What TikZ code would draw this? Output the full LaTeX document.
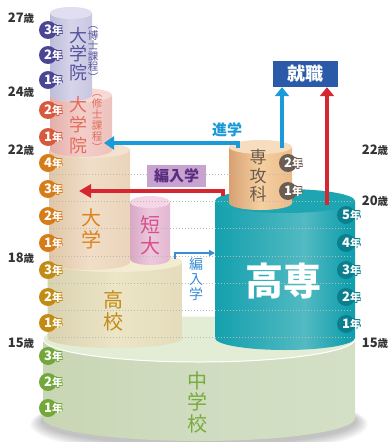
\documentclass[tikz,border=0pt]{standalone}
\usepackage{fontspec}
\setmainfont{Noto Sans CJK JP}
\usetikzlibrary{arrows.meta}
\definecolor{agec}{HTML}{333333}
\definecolor{purC}{HTML}{4A4594}
\definecolor{purT}{HTML}{55549C}
\definecolor{redC}{HTML}{D75A3C}
\definecolor{redT}{HTML}{E36D5D}
\definecolor{oraC}{HTML}{D67D1A}
\definecolor{oraT}{HTML}{DC8420}
\definecolor{golC}{HTML}{C28C14}
\definecolor{golT}{HTML}{C28B15}
\definecolor{grnC}{HTML}{72A83A}
\definecolor{grnT}{HTML}{79AB3E}
\definecolor{tealC}{HTML}{0B7F8E}
\definecolor{brC}{HTML}{6B5D52}
\definecolor{brT}{HTML}{6A5A4C}
\definecolor{magT}{HTML}{D5508E}
\definecolor{blueA}{HTML}{1A9AD8}
\definecolor{redA}{HTML}{D6262F}
\definecolor{shuB}{HTML}{2B5BA8}
\definecolor{henB}{HTML}{C8A3CF}
\definecolor{henT}{HTML}{5A2D81}
\definecolor{blueS}{HTML}{3A8DD4}
\definecolor{tkA}{HTML}{0A8796}
\definecolor{tkB}{HTML}{14A0AE}
\definecolor{tkC}{HTML}{52BAC2}
\definecolor{tkTop}{HTML}{1DA5B2}
\definecolor{chL}{HTML}{C8D6B4}\definecolor{chM}{HTML}{D0DCC0}\definecolor{chR}{HTML}{D4E0C5}\definecolor{chT}{HTML}{E3EDD5}
\definecolor{koL}{HTML}{DAD2AE}\definecolor{koM}{HTML}{ECE5C6}\definecolor{koR}{HTML}{E4DCBA}\definecolor{koT}{HTML}{F2ECD2}
\definecolor{daL}{HTML}{E0C6A6}\definecolor{daM}{HTML}{F1DEC8}\definecolor{daR}{HTML}{EAD4BA}\definecolor{daT}{HTML}{F4E2CF}
\definecolor{taL}{HTML}{D8A8C5}\definecolor{taM}{HTML}{EDC8DD}\definecolor{taR}{HTML}{E2B7D0}\definecolor{taT}{HTML}{F5D6E7}
\definecolor{shL}{HTML}{E4AFAA}\definecolor{shM}{HTML}{F3CEC9}\definecolor{shR}{HTML}{EDC2BD}\definecolor{shT}{HTML}{F7DAD6}
\definecolor{hkL}{HTML}{BFBCDA}\definecolor{hkM}{HTML}{D6D4EA}\definecolor{hkR}{HTML}{C9C6E1}\definecolor{hkT}{HTML}{E0DEF0}
\definecolor{skL}{HTML}{D7A172}\definecolor{skM}{HTML}{F6CFA0}\definecolor{skR}{HTML}{EBBB8A}\definecolor{skT}{HTML}{F7DCBE}
\pgfdeclarehorizontalshading{kosenS}{100bp}{color(0bp)=(tkA); color(25bp)=(tkB); color(57bp)=(tkC); color(72bp)=(tkB); color(100bp)=(tkA)}
\newcommand\cylside[6]{\path[#6] ({#1-#2},#3) -- ({#1-#2},#4) arc[start angle=180,end angle=0,x radius=#2,y radius=#5] -- ({#1+#2},#3) -- cycle;}
\newcommand\cyltop[5]{\path[#5] (#1,#2) ellipse[x radius=#3,y radius=#4];}
\newcommand\yrtext[1]{{\fontsize{13}{13}\selectfont\bfseries #1}{\fontsize{10.5}{10.5}\selectfont\bfseries 年}}
\newcommand\yrmark[5]{%
 \node[yrc,fill=#4] (#1) at (#2,#3) {};
 \foreach \dx/\dy/\k in {0.7/0.7/a,-0.7/0.7/b,0.7/-0.7/c,-0.7/-0.7/d}{\node[yrt,text=#4] (#1s\k) at ({#2-4+\dx},{#3+\dy}) {\yrtext{#5}};}
 \node[yrt,text=white] (#1t) at ({#2-4},#3) {\yrtext{#5}};}
\newcommand\agelab[3]{\node[agel] (#1) at #2 {{\fontsize{13}{13}\selectfont\bfseries #3}{\fontsize{10.5}{10.5}\selectfont\bfseries 歳}};}
\begin{document}
\begin{tikzpicture}[x=1pt,y=-1pt,
  yrc/.style={circle,inner sep=0pt,minimum size=18pt},
  yrt/.style={anchor=west,inner sep=0pt},
  agel/.style={inner sep=0pt,text=agec},
  vlab/.style={align=center,inner sep=0pt},
  dotln/.style={draw=gray!55,line width=0.8pt,dash pattern=on 0.8pt off 2.2pt},
  bigarrow/.style={line width=3.3pt,-{Triangle[length=9pt,width=14pt]}},
]
\useasboundingbox (0,0) rectangle (389,442);
\fill[white] (0,0) rectangle (389,442);
% shadow
\foreach \i in {1,...,8}{\fill[black,opacity=0.03] (199,{421+\i*0.4}) ellipse[x radius={156+\i*1.6},y radius={23+\i*1.1}];}
% middle school
\cylside{199}{156}{339}{418}{23}{left color=chL,right color=chR,middle color=chM}
\cyltop{199}{339}{156}{23}{fill=chT,draw=white,line width=1pt}
% koko
\cylside{115}{67.5}{262}{338}{10}{left color=koL,right color=koR,middle color=koM}
\cyltop{115}{262}{67.5}{10}{fill=koT}
% kosen
\cylside{285}{70}{201}{338}{12}{shading=kosenS}
\cyltop{285}{201}{70}{12}{fill=tkTop}
% daigaku
\cylside{89.5}{40.5}{150}{262}{8}{left color=daL,right color=daR,middle color=daM}
\cyltop{89.5}{150}{40.5}{8}{fill=daT}
% tandai
\cylside{150}{20}{202}{259}{6}{left color=taL,right color=taR,middle color=taM}
\cyltop{150}{202}{20}{6}{fill=taT}
% shushi
\cylside{81}{31}{95}{150}{7}{left color=shL,right color=shR,middle color=shM}
\cyltop{81}{95}{31}{7}{fill=shT}
% hakushi
\cylside{71}{21}{13}{95}{6}{left color=hkL,right color=hkR,middle color=hkM}
\cyltop{71}{13}{21}{6}{fill=hkT}
% senkoka
\cylside{260.5}{31.5}{147}{203}{7}{left color=skL,right color=skR,middle color=skM}
\cyltop{260.5}{147}{31.5}{7}{fill=skT}
% dotted year lines
\draw[dotln] (50,174) -- (292,174);
\foreach \yy in {201,228,256,283,310,337}{\draw[dotln] (50,\yy) -- (353,\yy);}
% labels in cylinders
\node[vlab,text=purT,font=\fontsize{18}{18.5}\selectfont] (lhaku) at (78,54) {大\\学\\院};
\node[vlab,text=purT,font=\fontsize{10.5}{10.5}\selectfont] (lhakuc) at (93,54) {︵\\博\\士\\課\\程\\︶};
\node[vlab,text=redT,font=\fontsize{18}{20.5}\selectfont] (lshu) at (78,125) {大\\学\\院};
\node[vlab,text=redT,font=\fontsize{10.5}{11}\selectfont] (lshuc) at (97,123) {︵\\修\\士\\課\\程\\︶};
\node[vlab,text=oraT,font=\fontsize{20}{22}\selectfont] (ldai) at (91,229) {大\\学};
\node[vlab,text=magT,font=\fontsize{20}{21}\selectfont] (ltan) at (150,235) {短\\大};
\node[vlab,text=golT,font=\fontsize{20}{22}\selectfont] (lkoko) at (113,311) {高\\校};
\node[vlab,text=grnT,font=\fontsize{20}{21.5}\selectfont] (lchu) at (197,402) {中\\学\\校};
\node[vlab,text=brT,font=\fontsize{17}{18.5}\selectfont] (lsen) at (258,176) {専\\攻\\科};
\node[vlab,text=blueS,font=\fontsize{14}{15}\selectfont] (lhen2) at (196,279) {編\\入\\学};
\node[text=white,inner sep=0pt,font=\fontsize{38}{38}\selectfont\bfseries] (lkosen) at (283.5,281.5) {高専};
% boxes
\node[fill=shuB,text=white,minimum width=65pt,minimum height=26pt,inner sep=0pt,font=\fontsize{18}{18}\selectfont\bfseries] (shu) at (305.5,74) {就職};
\node[fill=henB,text=henT,minimum width=59pt,minimum height=22pt,inner sep=0pt,font=\fontsize{15}{15}\selectfont\bfseries] (hen) at (176.5,176) {編入学};
\node[text=blueA,inner sep=0pt,font=\fontsize{15}{15}\selectfont\bfseries] (shingaku) at (227,130) {進学};
% connectors
\coordinate (skA) at (238,148);
\coordinate (shTip) at (104,143);
\coordinate (skB) at (282,148);
\coordinate (ksA) at (327,205);
\coordinate (ksB) at (223,196);
\coordinate (daiTip) at (79,191);
\coordinate (hsA) at (175,259);
\coordinate (hsTip) at (215,253);
\draw[blueA,line width=3.3pt,-{Triangle[length=10pt,width=13pt]}] (skA) |- (shTip);
\draw[blueA,bigarrow] (skB) -- (skB |- shu.south);
\draw[redA,bigarrow] (ksA) -- (ksA |- shu.south);
\draw[redA,line width=3.3pt,-{Triangle[length=12pt,width=13pt]}] (ksB) |- (daiTip);
\draw[blueS,line width=1.4pt,-{Triangle[length=6pt,width=6pt]}] (hsA) |- (hsTip);
% year marks
\yrmark{h3}{48}{30}{purC}{3}
\yrmark{h2}{48}{55}{purC}{2}
\yrmark{h1}{48}{80}{purC}{1}
\yrmark{m2}{48}{110}{redC}{2}
\yrmark{m1}{48}{137}{redC}{1}
\yrmark{d4}{48}{163}{oraC}{4}
\yrmark{d3}{48}{189}{oraC}{3}
\yrmark{d2}{48}{216}{oraC}{2}
\yrmark{d1}{48}{243}{oraC}{1}
\yrmark{k3}{48}{270}{golC}{3}
\yrmark{k2}{48}{297}{golC}{2}
\yrmark{k1}{48}{323}{golC}{1}
\yrmark{c3}{48}{356}{grnC}{3}
\yrmark{c2}{48}{382}{grnC}{2}
\yrmark{c1}{48}{408}{grnC}{1}
\yrmark{s2}{288}{163}{brC}{2}
\yrmark{s1}{288}{191}{brC}{1}
\yrmark{t5}{346}{215}{tealC}{5}
\yrmark{t4}{346}{243}{tealC}{4}
\yrmark{t3}{346}{270}{tealC}{3}
\yrmark{t2}{346}{297}{tealC}{2}
\yrmark{t1}{346}{324}{tealC}{1}
% ages
\agelab{a27}{(21,18)}{27}
\agelab{a24}{(21,92)}{24}
\agelab{a22}{(21,150)}{22}
\agelab{a18}{(21,258)}{18}
\agelab{a15}{(21,343)}{15}
\agelab{b22}{(375,150)}{22}
\agelab{b20}{(375,201)}{20}
\agelab{b15}{(375,343)}{15}
\end{tikzpicture}
\end{document}
